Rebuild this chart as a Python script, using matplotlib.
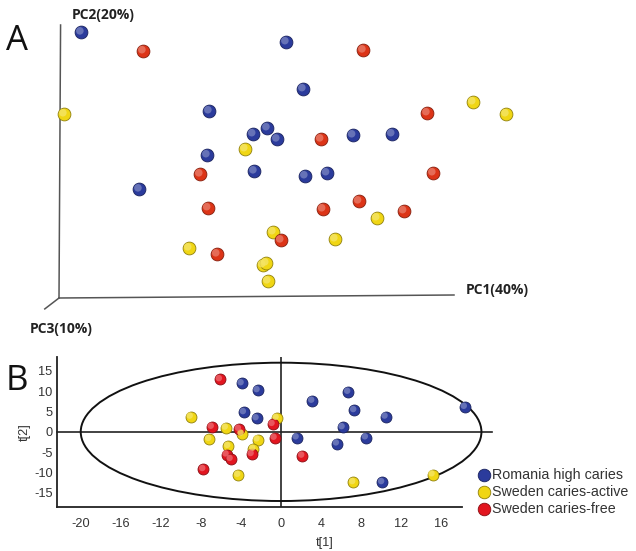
import matplotlib
matplotlib.use("Agg")
import matplotlib.pyplot as plt
import matplotlib.transforms as mtransforms
from matplotlib.patches import Ellipse
import numpy as np

plt.rcParams["axes.unicode_minus"] = False

# ---------------- Data ----------------
# Panel A (3D PCA projection, arbitrary PC units, axis drawn 0..100)
a_blue_pc1 = [5.6, 57.5, 61.8, 38.0, 52.7, 49.1, 55.2, 37.5, 49.4, 62.3, 20.3, 74.4, 84.3, 67.8]
a_blue_pc2 = [97.4, 93.8, 76.6, 68.5, 62.3, 60.1, 58.2, 52.4, 46.5, 44.7, 39.9, 59.7, 60.1, 45.8]
a_red_pc1 = [21.3, 77.0, 93.2, 66.3, 35.7, 94.7, 37.7, 66.8, 75.9, 87.3, 56.2, 40.0]
a_red_pc2 = [90.5, 90.8, 67.8, 58.2, 45.4, 45.8, 33.0, 32.6, 35.5, 31.9, 21.2, 16.1]
a_yel_pc1 = [1.3, 47.1, 104.8, 113.2, 80.5, 69.9, 54.2, 32.9, 51.6, 52.4, 52.9]
a_yel_pc2 = [67.4, 54.6, 71.8, 67.4, 29.3, 21.6, 24.2, 18.3, 12.1, 12.8, 6.2]

# Panel B (score plot t[1] vs t[2])
b_blue_t1 = [-3.92, -2.33, -3.69, -2.43, 1.57, 3.13, 6.72, 7.32, 10.45, 18.36, 6.16, 8.48, 5.59, 10.11]
b_blue_t2 = [11.9, 10.2, 4.8, 3.3, -1.4, 7.6, 9.8, 5.3, 3.7, 6.1, 1.1, -1.4, -2.9, -12.4]
b_yel_t1 = [-9.0, -0.43, -5.5, -3.92, -7.15, -2.33, -5.26, -2.76, -4.26, 15.14, 7.22]
b_yel_t2 = [3.7, 3.4, 1.0, -0.5, -1.8, -1.9, -3.5, -4.2, -10.6, -10.5, -12.4]
b_red_t1 = [-6.09, -0.83, -6.9, -4.19, -0.63, -5.42, -5.02, -2.92, 2.13, -7.75]
b_red_t2 = [12.9, 1.9, 1.2, 0.7, -1.5, -5.6, -6.7, -5.5, -5.9, -9.2]

ellipse_a, ellipse_b = 20.0, 17.0
xticks = [-20, -16, -12, -8, -4, 0, 4, 8, 12, 16]
yticks = [15, 10, 5, 0, -5, -10, -15]
labels = ["Romania high caries", "Sweden caries-active", "Sweden caries-free"]

# ---------------- Style ----------------
col_blue = "#2b3b9c"
col_red_a = "#dc3417"
col_red_b = "#e2151f"
col_yel = "#f0d614"

def shade(c, f):
    rgb = np.array(matplotlib.colors.to_rgb(c))
    if f < 1:
        return tuple(rgb * f)
    return tuple(rgb + (1 - rgb) * (f - 1))

def spheres(ax, fig, x, y, color, s, zorder=3, label=None):
    ax.scatter(x, y, s=s, color=color, edgecolors=shade(color, 0.6), linewidths=0.6,
               zorder=zorder, clip_on=False, label=label)
    off = mtransforms.offset_copy(ax.transData, fig=fig, x=-0.9, y=0.9, units="points")
    ax.scatter(x, y, s=s * 0.35, color=shade(color, 1.35), edgecolors="none",
               zorder=zorder + 0.1, clip_on=False, transform=off, alpha=0.8)

W, H = 636, 551
fig = plt.figure(figsize=(W / 100, H / 100), dpi=100)

# ---------------- Panel A ----------------
x0, x1, ytop, ybot = 59, 454, 25, 298
axA = fig.add_axes([x0 / W, 1 - ybot / H, (x1 - x0) / W, (ybot - ytop) / H])
axA.set_xlim(0, 100)
axA.set_ylim(0, 100)
axA.axis("off")
lc = "#555555"
axA.plot([0, 0.4], [0, 100], color=lc, lw=1.1, clip_on=False)
axA.plot([0, 100], [0, 1.1], color=lc, lw=1.1, clip_on=False)
axA.plot([0, -3.6], [0, -4.0], color=lc, lw=1.1, clip_on=False)

sA = 85
spheres(axA, fig, a_yel_pc1, a_yel_pc2, col_yel, sA)
spheres(axA, fig, a_red_pc1, a_red_pc2, col_red_a, sA)
spheres(axA, fig, a_blue_pc1, a_blue_pc2, col_blue, sA)

bold = dict(family="Open Sans", fontweight="bold", fontsize=10, color="#222222")
fig.text(103 / W, 1 - 15 / H, "PC2(20%)", ha="center", va="center", **bold)
fig.text(466 / W, 1 - 290 / H, "PC1(40%)", ha="left", va="center", **bold)
fig.text(30 / W, 1 - 329 / H, "PC3(10%)", ha="left", va="center", **bold)
fig.text(17 / W, 1 - 41 / H, "A", ha="center", va="center", fontsize=25, family="Open Sans", color="#111111")
fig.text(17 / W, 1 - 381 / H, "B", ha="center", va="center", fontsize=25, family="Open Sans", color="#111111")

# ---------------- Panel B ----------------
bl, br, bt, bb = 56.7, 462, 357, 506.7
axB = fig.add_axes([bl / W, 1 - bb / H, (br - bl) / W, (bb - bt) / H])
axB.set_xlim(-22.4, 18.06)
axB.set_ylim(-18.4, 18.4)
for side in ("top", "right"):
    axB.spines[side].set_visible(False)
for side in ("left", "bottom"):
    axB.spines[side].set_linewidth(1.3)
    axB.spines[side].set_color("#222222")
axB.set_xticks(xticks)
axB.set_yticks(yticks)
axB.tick_params(length=0, labelsize=9.2, labelcolor="#333333", pad=3)
axB.tick_params(axis="x", pad=8)
for lab in axB.get_xticklabels() + axB.get_yticklabels():
    lab.set_family("Liberation Sans")

axB.plot([-22.4, 21.05], [0, 0], color="#222222", lw=1.2, clip_on=False, zorder=1)
axB.axvline(0, color="#222222", lw=1.2, zorder=1)
axB.add_patch(Ellipse((0, 0), 2 * ellipse_a, 2 * ellipse_b, fill=False,
                      edgecolor="#111111", lw=1.4, zorder=2, clip_on=False))

sB = 62
spheres(axB, fig, b_blue_t1, b_blue_t2, col_blue, sB, label=labels[0])
spheres(axB, fig, b_yel_t1, b_yel_t2, col_yel, sB, label=labels[1])
spheres(axB, fig, b_red_t1, b_red_t2, col_red_b, sB, label=labels[2])

axB.set_xlabel("t[1]", fontsize=9.2, color="#333333", family="Liberation Sans", labelpad=2)
axB.xaxis.set_label_coords((325 - bl) / (br - bl), -0.2)
axB.set_ylabel("t[2]", fontsize=9.2, color="#333333", family="Liberation Sans", labelpad=2)

handles, labs = axB.get_legend_handles_labels()
leg = fig.legend(handles[:3], labs[:3], loc="center left",
                 bbox_to_anchor=(471 / W, 1 - 492 / H), frameon=False,
                 prop={"family": "Liberation Sans", "size": 10.3},
                 handlelength=0.8, handletextpad=0.2, labelspacing=0.22,
                 borderpad=0, scatterpoints=1, markerscale=1.15)
for t in leg.get_texts():
    t.set_color("#333333")

fig.savefig("out.png", dpi=100)
